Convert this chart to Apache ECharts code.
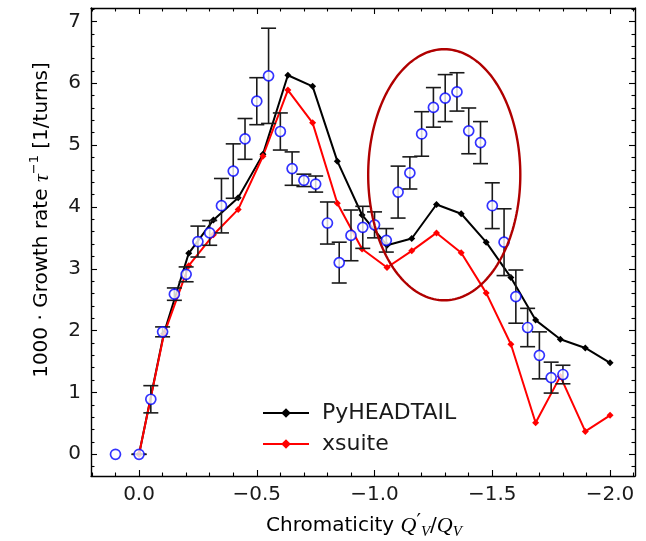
<!DOCTYPE html>
<html><head><meta charset="utf-8">
<script src="https://cdn.jsdelivr.net/npm/echarts@6/dist/echarts.min.js"></script>
<style>html,body{margin:0;padding:0;background:#fff}#c{width:646px;height:541px}</style>
</head><body><div id="c"></div>
<script>
// Simulation curves: chromaticity grid
const lineQ = [0, -0.105, -0.211, -0.316, -0.421, -0.526, -0.632, -0.737, -0.842, -0.947, -1.053, -1.158, -1.263, -1.368, -1.474, -1.579, -1.684, -1.789, -1.895, -2.0];
const pyheadtail = [0, 1.95, 3.25, 3.79, 4.15, 4.85, 6.13, 5.95, 4.74, 3.87, 3.38, 3.49, 4.04, 3.89, 3.43, 2.86, 2.17, 1.86, 1.72, 1.48];
const xsuite = [0, 1.93, 3.05, 3.55, 3.96, 4.82, 5.89, 5.36, 4.06, 3.32, 3.02, 3.29, 3.58, 3.26, 2.61, 1.78, 0.51, 1.26, 0.37, 0.63];

// Measured points with error bars
const measQ = [0.1, 0, -0.05, -0.10, -0.15, -0.20, -0.25, -0.30, -0.35, -0.40, -0.45, -0.50, -0.55, -0.60, -0.65, -0.70, -0.75, -0.80, -0.85, -0.90, -0.95, -1.00, -1.05, -1.10, -1.15, -1.20, -1.25, -1.30, -1.35, -1.40, -1.45, -1.50, -1.55, -1.60, -1.65, -1.70, -1.75, -1.80];
const measV = [0, 0, 0.89, 1.98, 2.59, 2.91, 3.44, 3.58, 4.02, 4.58, 5.10, 5.71, 6.12, 5.22, 4.62, 4.43, 4.37, 3.74, 3.10, 3.54, 3.67, 3.71, 3.46, 4.24, 4.55, 5.18, 5.61, 5.76, 5.86, 5.23, 5.04, 4.02, 3.43, 2.55, 2.05, 1.60, 1.24, 1.29];
const measErr = [null, 0, 0.22, 0.08, 0.10, 0.12, 0.25, 0.20, 0.44, 0.44, 0.33, 0.38, 0.77, 0.30, 0.27, 0.10, 0.13, 0.34, 0.33, 0.41, 0.34, 0.21, 0.19, 0.42, 0.26, 0.36, 0.32, 0.38, 0.31, 0.37, 0.34, 0.37, 0.54, 0.43, 0.31, 0.38, 0.25, 0.15];

// Ticks
const xMajorTicks = [0, -0.5, -1.0, -1.5, -2.0];
const xMinorTicks = [0.2, 0.1, -0.1, -0.2, -0.3, -0.4, -0.6, -0.7, -0.8, -0.9, -1.1, -1.2, -1.3, -1.4, -1.6, -1.7, -1.8, -1.9, -2.1];
const yMajorTicks = [0, 1, 2, 3, 4, 5, 6, 7];
const yMinorTicks = [-0.2, 0.2, 0.4, 0.6, 0.8, 1.2, 1.4, 1.6, 1.8, 2.2, 2.4, 2.6, 2.8, 3.2, 3.4, 3.6, 3.8, 4.2, 4.4, 4.6, 4.8, 5.2, 5.4, 5.6, 5.8, 6.2, 6.4, 6.6, 6.8, 7.2];

// Highlight ellipse annotation (data coords): center and semi-axes
const ellipseCenter = [-1.296, 4.52];
const ellipseRadii = [0.323, 2.03];

const X_MIN = -2.106, X_MAX = 0.204, Y_MIN = -0.351, Y_MAX = 7.217;
const FONT = 'DejaVu Sans';
const TXT = '#1a1a1a';

function fmtX(v) {
  if (Math.abs(v) < 1e-9) return '0.0';
  return (v < 0 ? '\u2212' : '') + Math.abs(v).toFixed(1);
}

function xAxisDef(pos, major, labels) {
  return {
    type: 'value', position: pos, min: X_MIN, max: X_MAX, inverse: true,
    axisLine: { show: major, onZero: false, lineStyle: { color: '#000', width: 1.4 } },
    axisTick: { show: true, inside: true, length: major ? 6 : 3.5, customValues: major ? xMajorTicks : xMinorTicks, lineStyle: { color: '#000', width: 1.1 } },
    axisLabel: { show: labels, customValues: xMajorTicks, formatter: fmtX, fontFamily: FONT, fontSize: 20, color: TXT, margin: 9 },
    splitLine: { show: false }
  };
}
function yAxisDef(pos, major, labels) {
  return {
    type: 'value', position: pos, min: Y_MIN, max: Y_MAX,
    axisLine: { show: major, onZero: false, lineStyle: { color: '#000', width: 1.4 } },
    axisTick: { show: true, inside: true, length: major ? 6 : 3.5, customValues: major ? yMajorTicks : yMinorTicks, lineStyle: { color: '#000', width: 1.1 } },
    axisLabel: { show: labels, customValues: yMajorTicks, formatter: v => String(Math.round(v)), fontFamily: FONT, fontSize: 20, color: TXT, margin: 10 },
    splitLine: { show: false }
  };
}

const pyData = lineQ.map((q, i) => [q, pyheadtail[i]]);
const xsData = lineQ.map((q, i) => [q, xsuite[i]]);
const measData = measQ.map((q, i) => [q, measV[i]]);
const errData = [];
measQ.forEach((q, i) => { if (measErr[i] !== null) errData.push([q, measV[i] - measErr[i], measV[i] + measErr[i]]); });

const chart = echarts.init(document.getElementById('c'), null, { renderer: 'canvas' });
chart.setOption({
  animation: false,
  backgroundColor: '#fff',
  grid: { left: 91, right: 11, top: 8, bottom: 65, containLabel: false },
  xAxis: [xAxisDef('bottom', true, true), xAxisDef('top', true, false), xAxisDef('bottom', false, false), xAxisDef('top', false, false)],
  yAxis: [yAxisDef('left', true, true), yAxisDef('right', true, false), yAxisDef('left', false, false), yAxisDef('right', false, false)],
  legend: {
    orient: 'vertical', left: 262, top: 402, padding: 0, itemWidth: 46, itemHeight: 12, itemGap: 9,
    data: ['PyHEADTAIL', 'xsuite'],
    textStyle: { fontFamily: FONT, fontSize: 22, color: TXT, padding: [0, 0, 0, 8] }
  },
  graphic: [
    { type: 'text', x: 364, y: 526, style: {
        text: '{n|Chromaticity }{i|Q}{p|\u2032}{s|V}{n|/}{i|Q}{s|V}',
        align: 'center', verticalAlign: 'middle',
        rich: {
          n: { fontFamily: FONT, fontSize: 20, color: TXT, lineHeight: 28 },
          i: { fontFamily: 'Liberation Serif', fontStyle: 'italic', fontSize: 22, color: TXT, lineHeight: 28 },
          p: { fontFamily: FONT, fontSize: 20, color: TXT, verticalAlign: 'top', lineHeight: 24 },
          s: { fontFamily: 'Liberation Serif', fontStyle: 'italic', fontSize: 15, color: TXT, verticalAlign: 'bottom', lineHeight: 22 }
        } } },
    { type: 'text', x: 42, y: 220, rotation: Math.PI / 2, style: {
        text: '{n|1000 \u00b7 Growth rate }{i|\u03c4}{p|\u22121}{n| [1/turns]}',
        align: 'center', verticalAlign: 'middle',
        rich: {
          n: { fontFamily: FONT, fontSize: 20, color: TXT, lineHeight: 28 },
          i: { fontFamily: 'Liberation Serif', fontStyle: 'italic', fontSize: 22, color: TXT, lineHeight: 28 },
          p: { fontFamily: FONT, fontSize: 13, color: TXT, verticalAlign: 'top', lineHeight: 28 }
        } } }
  ],
  series: [
    { name: 'PyHEADTAIL', type: 'line', data: pyData, xAxisIndex: 0, yAxisIndex: 0,
      symbol: 'diamond', symbolSize: 7, showSymbol: true,
      lineStyle: { color: '#000', width: 2 }, itemStyle: { color: '#000' }, z: 3 },
    { name: 'xsuite', type: 'line', data: xsData, xAxisIndex: 0, yAxisIndex: 0,
      symbol: 'diamond', symbolSize: 7, showSymbol: true,
      lineStyle: { color: '#ff0000', width: 2 }, itemStyle: { color: '#ff0000' }, z: 3 },
    { name: 'errors', type: 'custom', data: errData, xAxisIndex: 0, yAxisIndex: 0,
      encode: { x: 0, y: [1, 2] }, z: 4,
      renderItem: function (params, api) {
        const x = api.value(0);
        const lo = api.coord([x, api.value(1)]);
        const hi = api.coord([x, api.value(2)]);
        const w = 7.5;
        const st = { stroke: '#1a1a1a', lineWidth: 1.6 };
        return { type: 'group', children: [
          { type: 'line', shape: { x1: lo[0], y1: lo[1], x2: hi[0], y2: hi[1] }, style: st },
          { type: 'line', shape: { x1: lo[0] - w, y1: lo[1], x2: lo[0] + w, y2: lo[1] }, style: st },
          { type: 'line', shape: { x1: hi[0] - w, y1: hi[1], x2: hi[0] + w, y2: hi[1] }, style: st }
        ] };
      } },
    { name: 'measured', type: 'scatter', data: measData, xAxisIndex: 0, yAxisIndex: 0,
      symbol: 'circle', symbolSize: 10,
      itemStyle: { color: '#ffffff', borderColor: '#0000ff', borderWidth: 1.7 }, z: 5 },
    { name: 'ellipse', type: 'custom', data: [[ellipseCenter[0], ellipseCenter[1], ellipseRadii[0], ellipseRadii[1]]],
      xAxisIndex: 0, yAxisIndex: 0, encode: { x: 0, y: 1 }, z: 6, silent: true,
      renderItem: function (params, api) {
        const c = api.coord([api.value(0), api.value(1)]);
        const s = api.size([api.value(2), api.value(3)]);
        const pts = [];
        for (let k = 0; k < 180; k++) {
          const t = k / 180 * Math.PI * 2;
          pts.push([c[0] + s[0] * Math.cos(t), c[1] + s[1] * Math.sin(t)]);
        }
        return { type: 'polygon', shape: { points: pts }, style: { fill: null, stroke: '#b00000', lineWidth: 2.4 } };
      } }
  ]
});
</script>
</body></html>
